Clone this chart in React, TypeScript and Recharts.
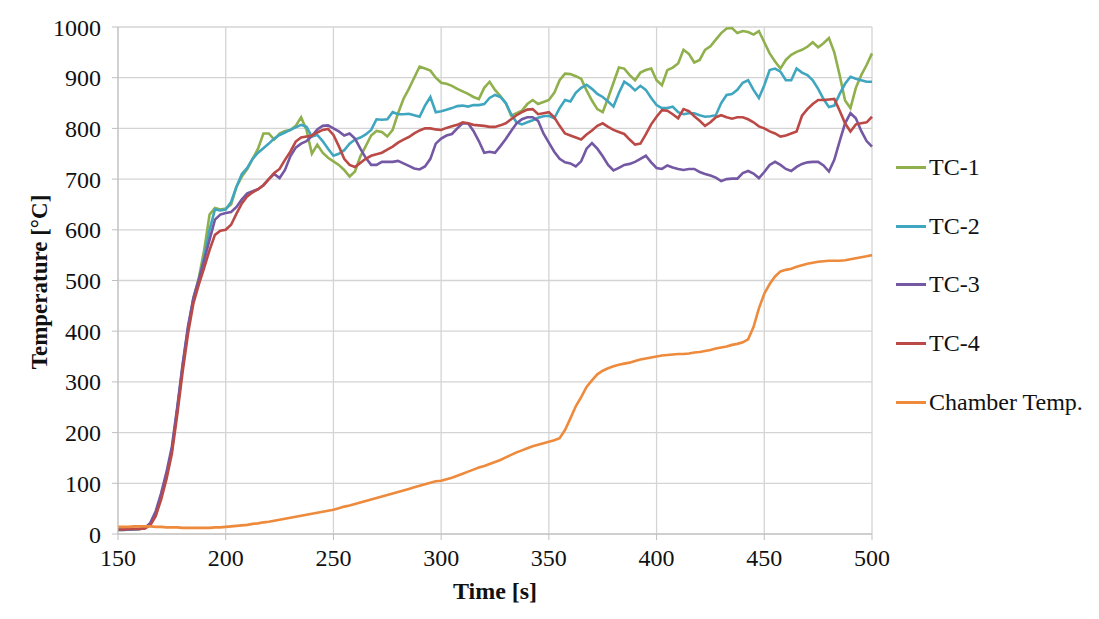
import { LineChart, Line, XAxis, YAxis, CartesianGrid } from 'recharts';

// time axis, 2.5 s step
const TIME = [
  150, 152.5, 155, 157.5, 160, 162.5, 165, 167.5, 170, 172.5, 175, 177.5, 180, 182.5, 185, 187.5, 190, 192.5, 195, 197.5,
  200, 202.5, 205, 207.5, 210, 212.5, 215, 217.5, 220, 222.5, 225, 227.5, 230, 232.5, 235, 237.5, 240, 242.5, 245, 247.5,
  250, 252.5, 255, 257.5, 260, 262.5, 265, 267.5, 270, 272.5, 275, 277.5, 280, 282.5, 285, 287.5, 290, 292.5, 295, 297.5,
  300, 302.5, 305, 307.5, 310, 312.5, 315, 317.5, 320, 322.5, 325, 327.5, 330, 332.5, 335, 337.5, 340, 342.5, 345, 347.5,
  350, 352.5, 355, 357.5, 360, 362.5, 365, 367.5, 370, 372.5, 375, 377.5, 380, 382.5, 385, 387.5, 390, 392.5, 395, 397.5,
  400, 402.5, 405, 407.5, 410, 412.5, 415, 417.5, 420, 422.5, 425, 427.5, 430, 432.5, 435, 437.5, 440, 442.5, 445, 447.5,
  450, 452.5, 455, 457.5, 460, 462.5, 465, 467.5, 470, 472.5, 475, 477.5, 480, 482.5, 485, 487.5, 490, 492.5, 495, 497.5,
  500,
];

const TC1 = [
  8, 8, 9, 9, 10, 12, 20, 40, 75, 115, 165, 245, 330, 405, 465, 505, 560, 630, 643, 640,
  642, 650, 685, 705, 720, 740, 760, 790, 790, 778, 790, 795, 797, 805, 822, 797, 750, 768, 752, 742,
  735, 728, 718, 705, 715, 745, 765, 786, 795, 793, 784, 797, 830, 858, 878, 900, 922, 918, 914, 900,
  890, 888, 884, 878, 873, 868, 862, 858, 880, 892, 876, 864, 850, 825, 830, 835, 848, 856, 848, 852,
  856, 870, 895, 908, 907, 903, 898, 875, 855, 838, 832, 860, 890, 920, 918, 905, 895, 910, 915, 918,
  895, 885, 915, 920, 928, 955, 947, 930, 935, 955, 962, 975, 988, 997, 998, 988, 992, 990, 985, 992,
  970, 948, 932, 918, 935, 945, 951, 955, 961, 970, 960, 968, 978, 950, 905, 855, 840, 880, 905, 925,
  948,
];

const TC2 = [
  8, 8, 9, 9, 10, 12, 20, 40, 75, 115, 165, 245, 330, 405, 463, 500, 545, 600, 640, 638,
  640, 655, 685, 710, 722, 740, 752, 761, 770, 780, 787, 792, 797, 802, 807, 803, 784, 787, 775, 760,
  746, 750, 757, 770, 778, 782, 788, 797, 818, 817, 818, 832, 828, 828, 829, 826, 823, 845, 862, 832,
  834, 837, 840, 844, 845, 843, 846, 846, 848, 860, 866, 862, 850, 828, 812, 808, 812, 816, 821, 824,
  825, 820, 840, 856, 853, 870, 880, 886, 878, 868, 862, 853, 843, 870, 892, 885, 875, 884, 876, 860,
  846, 840, 840, 843, 832, 828, 830, 830, 826, 823, 824, 826, 850, 866, 868, 876, 890, 895, 876, 860,
  885, 915, 918, 912, 895, 895, 918, 910, 905, 895, 878, 858, 842, 845, 868, 888, 902, 898, 895, 892,
  892,
];

const TC3 = [
  9, 9, 9, 10, 10, 12, 22, 45, 80, 122, 172, 250, 335, 410, 466, 502, 540, 580, 620, 630,
  633, 635, 645, 660, 672, 676, 680, 688, 700, 710, 702, 718, 745, 762, 770, 775, 785, 798, 805, 806,
  800, 794, 786, 790, 780, 760, 742, 728, 728, 734, 734, 734, 736, 731, 726, 721, 719, 725, 740, 770,
  780, 786, 789, 800, 810, 810, 795, 775, 752, 754, 752, 765, 779, 795, 810, 818, 822, 822, 815, 790,
  772, 754, 740, 733, 731, 725, 735, 760, 771, 760, 745, 728, 717, 722, 728, 730, 734, 740, 746, 733,
  722, 720, 727, 723, 720, 718, 720, 720, 714, 710, 707, 703, 696, 700, 701, 701, 712, 716, 711, 702,
  714, 728, 734, 728, 720, 716, 724, 730, 733, 734, 734, 727, 715, 738, 775, 810, 830, 820, 795, 775,
  764,
];

const TC4 = [
  9, 9, 10, 10, 10, 11, 17, 35, 68, 108, 158, 235, 320, 395, 455, 492, 525, 560, 590, 598,
  600, 610, 632, 652, 666, 674, 680, 688, 700, 712, 720, 738, 754, 774, 782, 784, 786, 792, 797, 799,
  787, 765, 740, 728, 724, 732, 740, 746, 749, 752, 758, 764, 772, 778, 783, 790, 796, 800, 800, 798,
  797, 801, 804, 807, 812, 810, 807, 806, 805, 803, 803, 806, 810, 818, 826, 832, 837, 838, 828, 830,
  832, 822, 805, 790, 786, 782, 778, 788, 796, 805, 810, 803, 797, 793, 789, 778, 768, 770, 788, 808,
  823, 836, 835, 828, 820, 838, 834, 824, 815, 805, 812, 822, 826, 822, 819, 822, 822, 818, 812, 804,
  800, 794, 790, 784, 786, 790, 794, 825, 838, 848, 856, 856, 857, 858, 835, 810, 794, 808, 810, 812,
  823,
];

const CHAMBER = [
  14, 14, 14, 15, 15, 15, 15, 14, 14, 13, 13, 13, 12, 12, 12, 12, 12, 12, 13, 13,
  14, 15, 16, 17, 18, 20, 21, 23, 24, 26, 28, 30, 32, 34, 36, 38, 40, 42, 44, 46,
  48, 51, 54, 56, 59, 62, 65, 68, 71, 74, 77, 80, 83, 86, 89, 92, 95, 98, 101, 104,
  105, 108, 111, 115, 119, 123, 127, 131, 134, 138, 142, 146, 151, 156, 161, 165, 169, 173, 176, 179,
  182, 185, 189, 205, 228, 252, 270, 290, 303, 315, 322, 327, 331, 334, 336, 338, 341, 344, 346, 348,
  350, 352, 353, 354, 355, 355, 356, 358, 359, 361, 363, 366, 368, 370, 373, 375, 378, 384, 408, 445,
  474, 493, 508, 518, 521, 523, 527, 530, 533, 535, 537, 538, 539, 539, 539, 540, 542, 544, 546, 548,
  550,
];

const X_TICKS = [150, 200, 250, 300, 350, 400, 450, 500];
const Y_TICKS = [0, 100, 200, 300, 400, 500, 600, 700, 800, 900, 1000];

const SERIES = [
  { key: 'tc1', name: 'TC-1', color: '#8fb04c', values: TC1 },
  { key: 'tc2', name: 'TC-2', color: '#40a6c0', values: TC2 },
  { key: 'tc3', name: 'TC-3', color: '#7458a3', values: TC3 },
  { key: 'tc4', name: 'TC-4', color: '#bb4a47', values: TC4 },
  { key: 'chamber', name: 'Chamber Temp.', color: '#ee8a3c', values: CHAMBER },
];

const data = TIME.map((t, i) => {
  const row: Record<string, number> = { t };
  SERIES.forEach((s) => { row[s.key] = s.values[i]; });
  return row;
});

const FONT = 'Liberation Serif';
const tickStyle = { fill: '#111', fontSize: 24, fontFamily: FONT };

export default function App() {
  return (
    <div style={{ position: 'relative', width: 1091, height: 611, background: '#fff' }}>
      <div style={{ position: 'absolute', left: -1, top: -1, width: 1100, height: 640, borderLeft: '1.5px solid #c4c4c4', borderTop: '1.5px solid #c4c4c4', pointerEvents: 'none' }} />
      <LineChart width={1091} height={611} data={data} margin={{ top: 19, right: 227, bottom: 0, left: 0 }}>
        <CartesianGrid stroke="#d4d4d4" strokeWidth={1.3} />
        <XAxis
          dataKey="t"
          type="number"
          domain={[150, 500]}
          ticks={X_TICKS}
          height={85}
          tick={tickStyle}
          tickSize={6}
          tickMargin={9}
          tickLine={{ stroke: '#bfbfbf' }}
          axisLine={{ stroke: '#bfbfbf' }}
          label={{
            content: () => (
              <text x={487} y={591} textAnchor="middle" style={{ fontFamily: FONT, fontSize: 24, fontWeight: 'bold', fill: '#111' }}>
                Time [s]
              </text>
            ),
          }}
        />
        <YAxis
          type="number"
          domain={[0, 1000]}
          ticks={Y_TICKS}
          width={110}
          tick={tickStyle}
          tickSize={6}
          tickMargin={11}
          tickLine={{ stroke: '#bfbfbf' }}
          axisLine={{ stroke: '#bfbfbf' }}
          label={{
            content: () => (
              <text x={34} y={274} transform="rotate(-90 34 274)" textAnchor="middle" dominantBaseline="middle" style={{ fontFamily: FONT, fontSize: 23, fontWeight: 'bold', fill: '#111' }}>
                Temperature [°C]
              </text>
            ),
          }}
        />
        {SERIES.map((s) => (
          <Line
            key={s.key}
            dataKey={s.key}
            name={s.name}
            stroke={s.color}
            strokeWidth={2.6}
            dot={false}
            type="linear"
            isAnimationActive={false}
          />
        ))}
      </LineChart>
      <div style={{ position: 'absolute', left: 888, top: 130, fontFamily: FONT, fontSize: 24, color: '#111' }}>
        {SERIES.map((s) => (
          <div key={s.key} style={{ height: 58.75, display: 'flex', alignItems: 'center' }}>
            <div style={{ width: 30, height: 3, background: s.color, marginRight: 3 }} />
            <span>{s.name}</span>
          </div>
        ))}
      </div>
    </div>
  );
}
